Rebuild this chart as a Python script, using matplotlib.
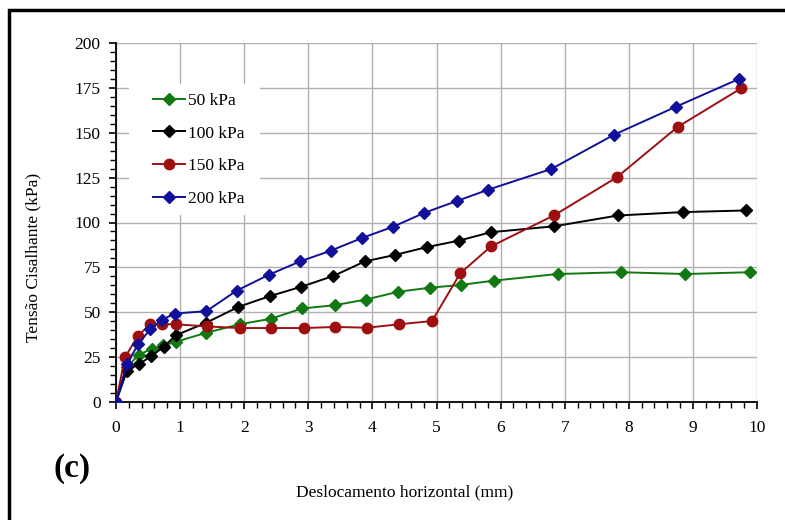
import matplotlib.pyplot as plt
from matplotlib.ticker import MultipleLocator
from matplotlib.patches import Rectangle

plt.rcParams['font.family'] = 'Liberation Serif'

# 50 kPa
x50 = [0, 0.17, 0.36, 0.56, 0.74, 0.93, 1.41, 1.93, 2.42, 2.90, 3.41, 3.90, 4.40, 4.90, 5.38, 5.89, 6.89, 7.88, 8.88, 9.89]
y50 = [0, 19.5, 26.4, 29.6, 31.5, 33.5, 38.6, 43.3, 46.4, 52.1, 53.9, 57.1, 61.4, 63.7, 65.2, 67.6, 71.3, 72.3, 71.3, 72.3]
# 100 kPa
x100 = [0, 0.17, 0.36, 0.55, 0.75, 0.93, 1.41, 1.91, 2.40, 2.89, 3.39, 3.88, 4.36, 4.85, 5.35, 5.85, 6.84, 7.83, 8.84, 9.83]
y100 = [0, 17.4, 21.2, 25.5, 30.9, 37.1, 44.2, 53.0, 59.0, 64.2, 70.2, 78.3, 82.0, 86.3, 89.9, 94.6, 97.9, 103.9, 105.8, 106.7]
# 150 kPa
x150 = [0, 0.14, 0.34, 0.53, 0.72, 0.93, 1.42, 1.93, 2.42, 2.93, 3.42, 3.92, 4.42, 4.93, 5.37, 5.85, 6.84, 7.81, 8.76, 9.75]
y150 = [0, 24.9, 36.7, 43.3, 43.3, 43.3, 42.1, 41.2, 41.2, 41.2, 41.8, 41.4, 43.3, 45.1, 71.7, 86.7, 104.1, 125.1, 153.2, 174.7]
# 200 kPa
x200 = [0, 0.17, 0.35, 0.53, 0.72, 0.92, 1.41, 1.88, 2.38, 2.87, 3.35, 3.84, 4.32, 4.81, 5.32, 5.80, 6.79, 7.77, 8.73, 9.72]
y200 = [0, 21.2, 32.4, 40.4, 45.9, 49.3, 50.6, 62.0, 70.8, 78.3, 84.3, 91.4, 97.6, 105.4, 112.0, 118.2, 129.8, 148.9, 164.4, 180.0]

fig = plt.figure(figsize=(7.85, 5.2), dpi=100)
ax = fig.add_axes([116 / 785, 1 - 402 / 520, (757 - 116) / 785, (402 - 43) / 520])

ax.plot(x50, y50, color='#127812', marker='D', markersize=6, lw=1.4, label='50 kPa', zorder=3)
ax.plot(x100, y100, color='black', marker='D', markersize=6, lw=1.4, label='100 kPa', zorder=3)
ax.plot(x150, y150, color='#9e1010', marker='o', markersize=7.5, lw=1.4, label='150 kPa', zorder=3)
ax.plot(x200, y200, color='#10109a', marker='D', markersize=6, lw=1.4, label='200 kPa', zorder=4)

ax.set_xlim(0, 10)
ax.set_ylim(0, 200)
ax.xaxis.set_major_locator(MultipleLocator(1))
ax.xaxis.set_minor_locator(MultipleLocator(0.2))
ax.yaxis.set_major_locator(MultipleLocator(25))
ax.yaxis.set_minor_locator(MultipleLocator(5))
ax.grid(True, which='major', color='#b0b0b0', lw=1)
ax.set_axisbelow(True)
for s in ['top', 'right']:
    ax.spines[s].set_visible(False)
for s in ['left', 'bottom']:
    ax.spines[s].set_linewidth(1.3)
ax.tick_params(which='major', direction='out', length=5, width=1.2, labelsize=12.5, pad=8)
ax.tick_params(which='minor', direction='out', length=4, width=1)
ax.tick_params(axis='y', pad=6)

ax.set_xlabel('Deslocamento horizontal (mm)', fontsize=12.5)
ax.xaxis.set_label_coords((405 - 116) / (757 - 116), -(492 - 402) / (402 - 43))
ax.set_ylabel('Tensão Cisalhante (kPa)', fontsize=12.5)
ax.yaxis.set_label_coords(-(116 - 33) / (757 - 116), (402 - 257) / (402 - 43))
ax.yaxis.label.set_va('center')
ax.xaxis.label.set_va('center')

# white box behind legend
ax.add_patch(Rectangle((0.2, 104), 2.05, 73, facecolor='white', edgecolor='none', zorder=2))
leg = ax.legend(loc='upper left', bbox_to_anchor=(0.034, 0.905), frameon=False, fontsize=12.5,
                handlelength=1.8, labelspacing=0.95, handletextpad=0.2)

fig.text(72 / 785, 1 - 468 / 520, '(c)', fontsize=24, fontweight='bold', ha='center', va='center')

# outer frame
fig.add_artist(Rectangle((9 / 785, -0.05), 1.1, 1 - 10 / 520 + 0.05, transform=fig.transFigure,
                         fill=False, edgecolor='black', lw=2.5))

fig.savefig('out.png', dpi=100)
